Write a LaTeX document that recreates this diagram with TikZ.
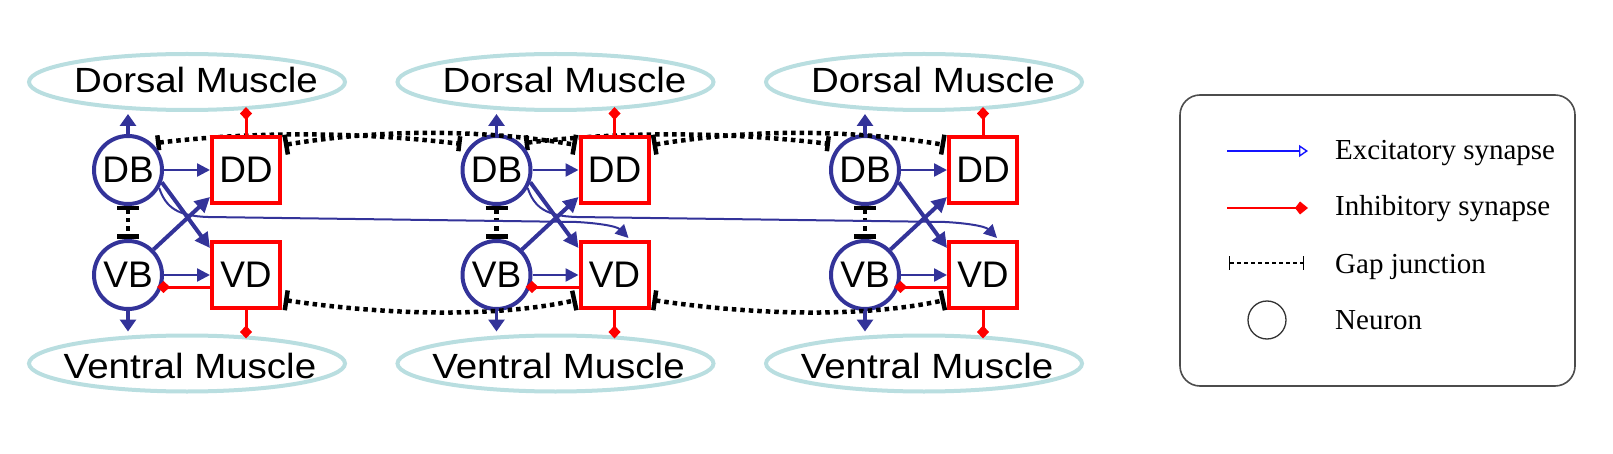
\documentclass[tikz,border=0pt]{standalone}
\usepackage{fontspec}
\setmainfont{Liberation Serif}
\newfontfamily\sansf{Liberation Sans}
\newfontfamily\sansw[FakeStretch=1.1]{Liberation Sans}
\usetikzlibrary{arrows.meta,shapes.geometric,calc,backgrounds}
\definecolor{nblue}{RGB}{51,51,153}
\definecolor{musc}{RGB}{185,222,224}
\definecolor{lgblue}{RGB}{20,20,255}
\begin{document}
\begin{tikzpicture}[x=1pt,y=-1pt,
  muscle/.style={ellipse, draw=musc, line width=4pt, minimum width=316pt, minimum height=56pt, inner sep=0pt},
  mtext/.style={anchor=base, inner sep=0pt, font=\sansw\fontsize{35}{40}\selectfont},
  neuron/.style={circle, draw=nblue, line width=4pt, minimum size=68pt, inner sep=0pt, font=\sansf\fontsize{37}{40}\selectfont},
  motor/.style={rectangle, draw=red, line width=4pt, fill=white, minimum width=68pt, minimum height=66pt, inner sep=0pt, font=\sansf\fontsize{37}{40}\selectfont},
  exc/.style={draw=nblue, line width=2.5pt, -{Triangle[length=13pt,width=13pt]}},
  excthick/.style={draw=nblue, line width=4pt, -{Triangle[length=15pt,width=15pt]}},
  musarrow/.style={draw=nblue, line width=3.5pt, -{Triangle[length=12pt,width=16pt]}},
  inh/.style={draw=red, line width=3pt, -{Diamond[length=13pt,width=12pt]}},
  longexc/.style={draw=nblue, line width=2pt, -{Triangle[length=13pt,width=13pt]}},
  gapj/.style={draw=black, line width=4.5pt, dash pattern=on 4.5pt off 4pt, {Bar[width=#1,line width=4.5pt]}-{Bar[width=#1,line width=4.5pt]}},
  gapj/.default=20pt,
  legtext/.style={anchor=base west, inner sep=0pt, font=\fontsize{29}{32}\selectfont}
]
\useasboundingbox (0,0) rectangle (1613,454);

% modules
\foreach \i/\X in {1/128,2/496.5,3/865}{
  \node[muscle] (DM\i) at (\X+59,82) {};
  \node[mtext] (DMt\i) at (\X+68,93) {Dorsal Muscle};
  \node[muscle] (VM\i) at (\X+59,363.5) {};
  \node[mtext] (VMt\i) at (\X+62,378) {Ventral Muscle};
  \node[neuron] (DB\i) at (\X,170) {DB};
  \node[neuron] (VB\i) at (\X,275) {VB};
  \node[motor] (DD\i) at (\X+118,170) {DD};
  \node[motor] (VD\i) at (\X+118,275) {VD};
}

% gap junctions between DB neurons (behind the DD boxes)
\begin{pgfonlayer}{background}
\foreach \i/\j in {1/2,2/3}{
  \coordinate (gs\i) at ($(DB\i.center)+(28,-27)$);
  \coordinate (ge\i) at ($(DB\j.center)+(-35,-26)$);
  \draw[gapj=15pt] (gs\i) .. controls ($(gs\i)+(100,-12)$) and ($(ge\i)+(-100,-12)$) .. (ge\i);
}
\end{pgfonlayer}

% gap junctions DD-DD and VD-VD
\foreach \i/\j in {1/2,2/3}{
  \coordinate (ds\i) at ($(DD\i.north east)+(2,10)$);
  \coordinate (de\i) at ($(DD\j.north west)+(-2,10)$);
  \draw[gapj] (ds\i) .. controls ($(ds\i)+(95,-16)$) and ($(de\i)+(-95,-16)$) .. (de\i);
  \coordinate (vs\i) at ($(VD\i.south east)+(2,-10)$);
  \coordinate (ve\i) at ($(VD\j.south west)+(-2,-10)$);
  \draw[gapj] (vs\i) .. controls ($(vs\i)+(108,16)$) and ($(ve\i)+(-78,17)$) .. (ve\i);
}

% connections inside each module
\foreach \i in {1,2,3}{
  \draw[gapj=22pt] (DB\i.south) -- (VB\i.north);
  \draw[musarrow] (DB\i.north) -- ($(DB\i.north |- DM\i.south)+(0,2)$);
  \draw[musarrow] (VB\i.south) -- ($(VB\i.south |- VM\i.north)+(0,-2)$);
  \draw[inh] (DD\i.north) -- ($(DD\i.north |- DM\i.south)+(0,-5)$);
  \draw[inh] (VD\i.south) -- ($(VD\i.south |- VM\i.north)+(0,5)$);
  \draw[exc] (DB\i.east) -- (DD\i.west);
  \draw[exc] (VB\i.east) -- (VD\i.west);
  \draw[inh] ($(VD\i.west)+(0,12)$) -- ($(VB\i.center)+(29,12)$);
  \draw[excthick] (DB\i.-20) -- ($(VD\i.north west)+(0,8)$);
  \draw[excthick] (VB\i.45) -- ($(DD\i.south west)+(0,-8)$);
}

% long excitatory connections DB(i) -> VD(i+1)
\foreach \i/\j in {1/2,2/3}{
  \coordinate (la\i) at ($(DB\i.center)+(80,47)$);
  \coordinate (lb\i) at ($(VD\j.north)+(-38,-18)$);
  \coordinate (lt\i) at ($(VD\j.north)+(14,-2)$);
  \draw[longexc] (DB\i.-30) .. controls ($(DB\i.center)+(38,38)$) and ($(DB\i.center)+(50,46)$) .. (la\i)
     -- (lb\i) .. controls ($(lb\i)+(20,1)$) and ($(lt\i)+(-12,-12)$) .. (lt\i);
}

% legend
\node[draw=black!70, line width=1.6pt, rounded corners=20pt, minimum width=395pt, minimum height=291pt, inner sep=0pt] (legend) at (1377.5,240.5) {};
\coordinate (ea) at (1227,151); \coordinate (eb) at (1308,151);
\draw[draw=lgblue, line width=1.4pt, -{Triangle[open,length=9pt,width=12pt,line width=1.4pt]}] (ea) -- (eb);
\coordinate (ia) at (1227,208); \coordinate (ib) at (1308,208);
\draw[draw=red, line width=1.4pt, -{Kite[length=13pt,width=13pt,inset=5pt]}] (ia) -- (ib);
\coordinate (ga) at (1229,263); \coordinate (gb) at (1304,263);
\draw[black, line width=1.2pt, dash pattern=on 4pt off 3pt, {Bar[width=13pt,line width=1.4pt]}-{Bar[width=13pt,line width=1.4pt]}] (ga) -- (gb);
\node[circle, draw=black!80, line width=1.3pt, minimum size=38pt, inner sep=0pt] (nleg) at (1267,320) {};
\node[legtext] (t1) at (1335,160) {Excitatory synapse};
\node[legtext] (t2) at (1335,216) {Inhibitory synapse};
\node[legtext] (t3) at (1335,273) {Gap junction};
\node[legtext] (t4) at (1335,329) {Neuron};
\end{tikzpicture}
\end{document}
